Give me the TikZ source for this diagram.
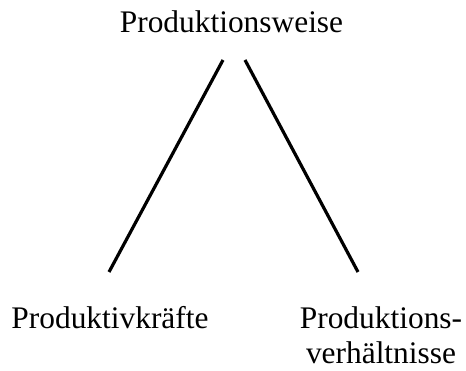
\documentclass[tikz,border=0pt]{standalone}
\usepackage{fontspec}
\setmainfont{Liberation Serif}
\tikzset{
  lbl/.style={inner sep=0pt, anchor=base, align=center, font=\fontsize{31.4}{35}\selectfont},
  edge/.style={line width=3.2pt, line cap=butt}
}
\begin{document}
\begin{tikzpicture}[x=1pt,y=1pt]
\useasboundingbox (0,0) rectangle (466,370);
\node[lbl] (top) at (231.5,337) {Produktionsweise};
\node[lbl] (left) at (110,42) {Produktivkräfte};
\node[lbl] (right) at (381,7) {Produktions-\\verhältnisse};
\coordinate (ta) at (223,310);
\coordinate (tb) at (245,310);
\coordinate (la) at (109,98);
\coordinate (rb) at (358,98);
\draw[edge] (ta) -- (la);
\draw[edge] (tb) -- (rb);
\end{tikzpicture}
\end{document}
